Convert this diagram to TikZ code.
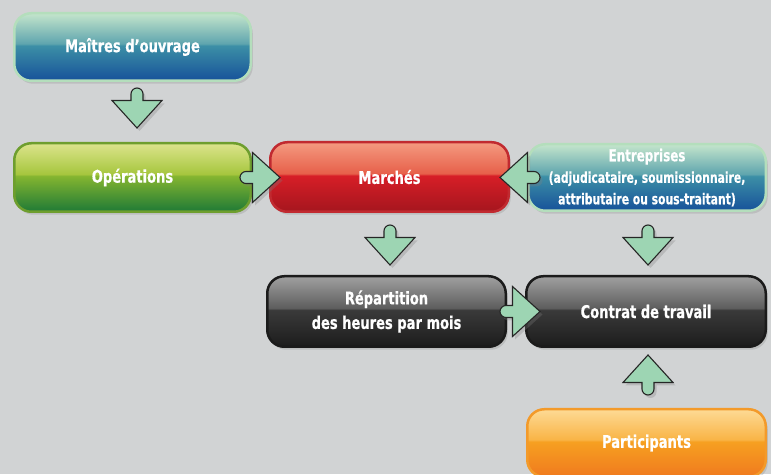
\documentclass[tikz,border=0pt]{standalone}
\usepackage{fontspec}
\newfontfamily\boxfont{DejaVu Sans Condensed Bold}[FakeStretch=0.83, FakeBold=0.6]
\newfontfamily\boxfontS{DejaVu Sans Condensed Bold}[FakeStretch=0.8, FakeBold=0.5]
\usetikzlibrary{calc,shadows}
\definecolor{bg}{HTML}{D1D3D4}
\definecolor{arrowgreen}{HTML}{9DD5B3}
\definecolor{blueA}{HTML}{C4E5CC}\definecolor{blueB}{HTML}{5FA5AE}\definecolor{blueC}{HTML}{3C8FA6}\definecolor{blueD}{HTML}{17529A}
\definecolor{greenA}{HTML}{DCE48C}\definecolor{greenB}{HTML}{A6C63E}\definecolor{greenC}{HTML}{84B530}\definecolor{greenD}{HTML}{1F7A36}
\definecolor{redA}{HTML}{F49A80}\definecolor{redB}{HTML}{E7604A}\definecolor{redC}{HTML}{D71E27}\definecolor{redD}{HTML}{A5161E}
\definecolor{grayA}{HTML}{A0A0A0}\definecolor{grayB}{HTML}{5E5E5E}\definecolor{grayC}{HTML}{3A3A3A}\definecolor{grayD}{HTML}{1C1C1C}
\definecolor{orA}{HTML}{FDDA95}\definecolor{orB}{HTML}{F9B446}\definecolor{orC}{HTML}{F6A021}\definecolor{orD}{HTML}{F07A1E}
\definecolor{blueBorder}{HTML}{B4DEBC}
\definecolor{greenBorder}{HTML}{6E9E2E}
\definecolor{redBorder}{HTML}{C12A30}
\definecolor{grayBorder}{HTML}{1B1B1B}
\definecolor{orBorder}{HTML}{F39A2A}
\pgfdeclareverticalshading{gblue}{100bp}{color(0bp)=(blueD); color(25bp)=(blueD); color(51bp)=(blueC); color(52.5bp)=(blueB); color(75bp)=(blueA); color(100bp)=(blueA)}
\pgfdeclareverticalshading{ggreen}{100bp}{color(0bp)=(greenD); color(25bp)=(greenD); color(51bp)=(greenC); color(52.5bp)=(greenB); color(75bp)=(greenA); color(100bp)=(greenA)}
\pgfdeclareverticalshading{gred}{100bp}{color(0bp)=(redD); color(25bp)=(redD); color(51bp)=(redC); color(52.5bp)=(redB); color(75bp)=(redA); color(100bp)=(redA)}
\pgfdeclareverticalshading{ggray}{100bp}{color(0bp)=(grayD); color(25bp)=(grayD); color(51bp)=(grayC); color(52.5bp)=(grayB); color(75bp)=(grayA); color(100bp)=(grayA)}
\pgfdeclareverticalshading{gorange}{100bp}{color(0bp)=(orD); color(25bp)=(orD); color(51bp)=(orC); color(52.5bp)=(orB); color(75bp)=(orA); color(100bp)=(orA)}
\tikzset{
  box/.style={rectangle, rounded corners=17pt, line width=2.5pt, inner sep=0pt,
    text=white, align=center,
    drop shadow={opacity=0.25, shadow xshift=2pt, shadow yshift=-3pt}},
  bluebox/.style={box, draw=blueBorder, shading=gblue},
  greenbox/.style={box, draw=greenBorder, shading=ggreen},
  redbox/.style={box, draw=redBorder, shading=gred},
  graybox/.style={box, draw=grayBorder, shading=ggray},
  orangebox/.style={box, draw=orBorder, shading=gorange},
  lbl/.style={font=\boxfont\fontsize{17.5}{24.5}\selectfont},
  lblsmall/.style={font=\boxfontS\fontsize{15}{21.5}\selectfont},
  arrowshape/.style={fill=arrowgreen, draw=black!85, line width=1.1pt, line join=miter,
    drop shadow={opacity=0.3, shadow xshift=2.5pt, shadow yshift=-3pt}},
  barrow/.pic={
    \path[arrowshape] (6,-6) -- (12.5,-6) -- (12.5,-25) -- (40,0) -- (12.5,25) -- (12.5,6) -- (6,6)
      arc[start angle=90, end angle=270, radius=6] -- cycle;
  }
}
\begin{document}
\begin{tikzpicture}[x=1pt, y=1pt]
\useasboundingbox (0,0) rectangle (771,474);
\clip (0,0) rectangle (771,474);
\fill[bg] (0,0) rectangle (771,474);
% boxes
\node[bluebox, lbl, minimum width=236.5pt, minimum height=67.5pt] (M) at (132.5,427) {Maîtres d’ouvrage};
\node[greenbox, lbl, minimum width=236.5pt, minimum height=68.5pt] (O) at (132.5,296.5) {Opérations};
\node[redbox, lbl, minimum width=238.5pt, minimum height=69.5pt] (Ma) at (389.5,297) {Marchés};
\node[bluebox, lblsmall, minimum width=237.5pt, minimum height=66.5pt] (E) at (647,296.5) {{\fontsize{16.5}{21.5}\selectfont Entreprises}\\(adjudicataire, soumissionnaire,\\attributaire ou sous-traitant)};
\node[graybox, lbl, minimum width=238.5pt, minimum height=70.5pt] (R) at (386.5,162.5) {Répartition\\des heures par mois};
\node[graybox, lbl, minimum width=239.5pt, minimum height=70.5pt] (C) at (646,162.5) {Contrat de travail};
\node[orangebox, lbl, minimum width=238.5pt, minimum height=67.5pt] (P) at (646.5,31) {Participants};
% block arrows
\pic[rotate=-90] (a1) at ($(M.south)+(4.5,-6)$) {barrow};
\pic (a2) at ($(O.east)+(-12,0)$) {barrow};
\pic[rotate=180] (a3) at ($(E.west)+(13,0)$) {barrow};
\pic[rotate=-90] (a4) at ($(Ma.south)+(0.5,-12)$) {barrow};
\pic[rotate=-90] (a5) at ($(E.south)+(1,-13)$) {barrow};
\pic (a6) at ($(R.east)+(-7,0)$) {barrow};
\pic[rotate=90] (a7) at ($(P.north)+(1.5,13)$) {barrow};
\end{tikzpicture}
\end{document}
